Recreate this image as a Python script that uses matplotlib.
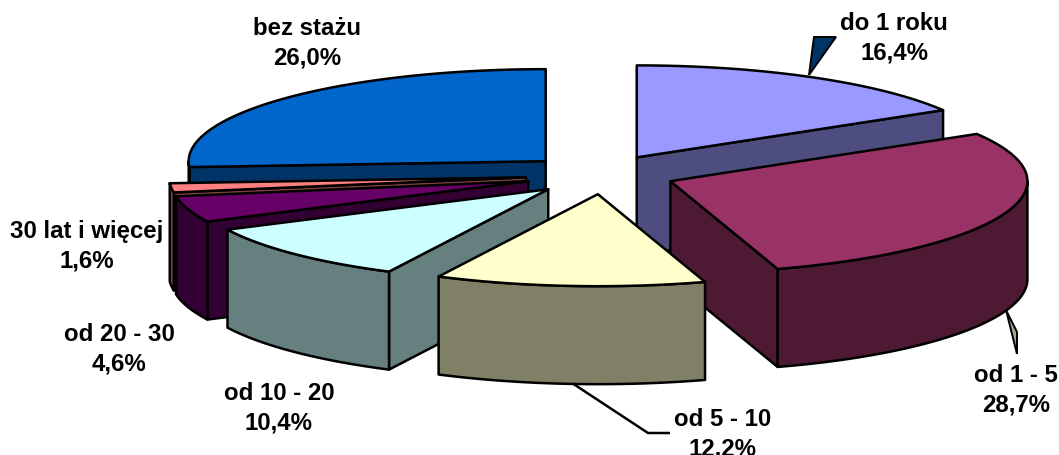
import numpy as np
import matplotlib
matplotlib.use("Agg")
import matplotlib.pyplot as plt
from matplotlib.patches import Polygon

categories = ["do 1 roku", "od 1 - 5", "od 5 - 10", "od 10 - 20", "od 20 - 30", "30 lat i więcej", "bez stażu"]
values = [16.4, 28.7, 12.2, 10.4, 4.6, 1.6, 26.0]
value_labels = ["16,4%", "28,7%", "12,2%", "10,4%", "4,6%", "1,6%", "26,0%"]
top_colors = ["#9999FF", "#993366", "#FFFFCC", "#CCFFFF", "#660066", "#FF8080", "#0066CC"]
side_colors = ["#4D4D80", "#4D1933", "#808066", "#668080", "#330033", "#804040", "#003366"]

CX, CY = 597.0, 175.0
RX, RY = 357.0, 92.0
DEPTH = 98.0
EXPLODE = 0.22
LW = 1.8

# small layout corrections per slice, in pixels
nudge_x = [1, 0, 7, 7, 6, 7, 6]
nudge_y = [1, 0, 0, 1, 1, 1, 1]

fig = plt.figure(figsize=(10.59, 4.56), dpi=100)
ax = fig.add_axes([0, 0, 1, 1])
ax.set_xlim(0, 1059)
ax.set_ylim(456, 0)
ax.axis("off")

total = sum(values)
edges = np.concatenate([[0], np.cumsum(values)]) / total * 2 * np.pi


def rim(cx, cy, angle):
    return np.column_stack([cx + RX * np.sin(angle), cy - RY * np.cos(angle)])


def face(points, color, z):
    ax.add_patch(Polygon(points, closed=True, facecolor=color, edgecolor="black",
                         linewidth=LW, joinstyle="round", zorder=z))


def draw_slice(i, z):
    a0, a1 = edges[i], edges[i + 1]
    mid = (a0 + a1) / 2
    cx = CX + RX * EXPLODE * np.sin(mid) + nudge_x[i]
    cy = CY - RY * EXPLODE * np.cos(mid) + nudge_y[i]
    apex = np.array([cx, cy])
    drop = np.array([0, DEPTH])
    if np.sin(a0) < 0:
        p = rim(cx, cy, np.array([a0]))[0]
        face([apex, p, p + drop, apex + drop], side_colors[i], z)
    if np.sin(a1) > 0:
        p = rim(cx, cy, np.array([a1]))[0]
        face([apex, p, p + drop, apex + drop], side_colors[i], z)
    lo, hi = max(a0, np.pi / 2), min(a1, 3 * np.pi / 2)
    if hi > lo:
        t = np.linspace(lo, hi, 80)
        arc = rim(cx, cy, t)
        face(np.vstack([arc, (arc + drop)[::-1]]), side_colors[i], z + 0.1)
    t = np.linspace(a0, a1, 120)
    face(np.vstack([[apex], rim(cx, cy, t)]), top_colors[i], z + 0.2)


for z, i in enumerate([6, 0, 5, 4, 3, 1, 2]):
    draw_slice(i, z + 2)

ax.add_patch(Polygon([[814, 38], [836, 38], [809, 76]], closed=True, facecolor="#003366",
                     edgecolor="black", linewidth=1.4, zorder=1))
ax.add_patch(Polygon([[1006, 311], [1017, 333], [1017, 355]], closed=True, facecolor="#A6A68C",
                     edgecolor="black", linewidth=1.4, zorder=1))
ax.plot([572, 648, 670], [384, 434, 434], color="black", lw=1.8, zorder=1, solid_capstyle="butt")

label_xy = [(894, 38.5), (1016, 390.5), (723, 434), (279, 408.5), (119, 349.5), (87, 246), (307, 43.5)]
for (x, y), c, v in zip(label_xy, categories, value_labels):
    ax.text(x, y, f"{c}\n{v}", ha="center", va="center", fontsize=17.3, fontweight="bold",
            family="Liberation Sans", color="black", linespacing=1.36, zorder=20, clip_on=True)

fig.savefig("out.png", dpi=100)
